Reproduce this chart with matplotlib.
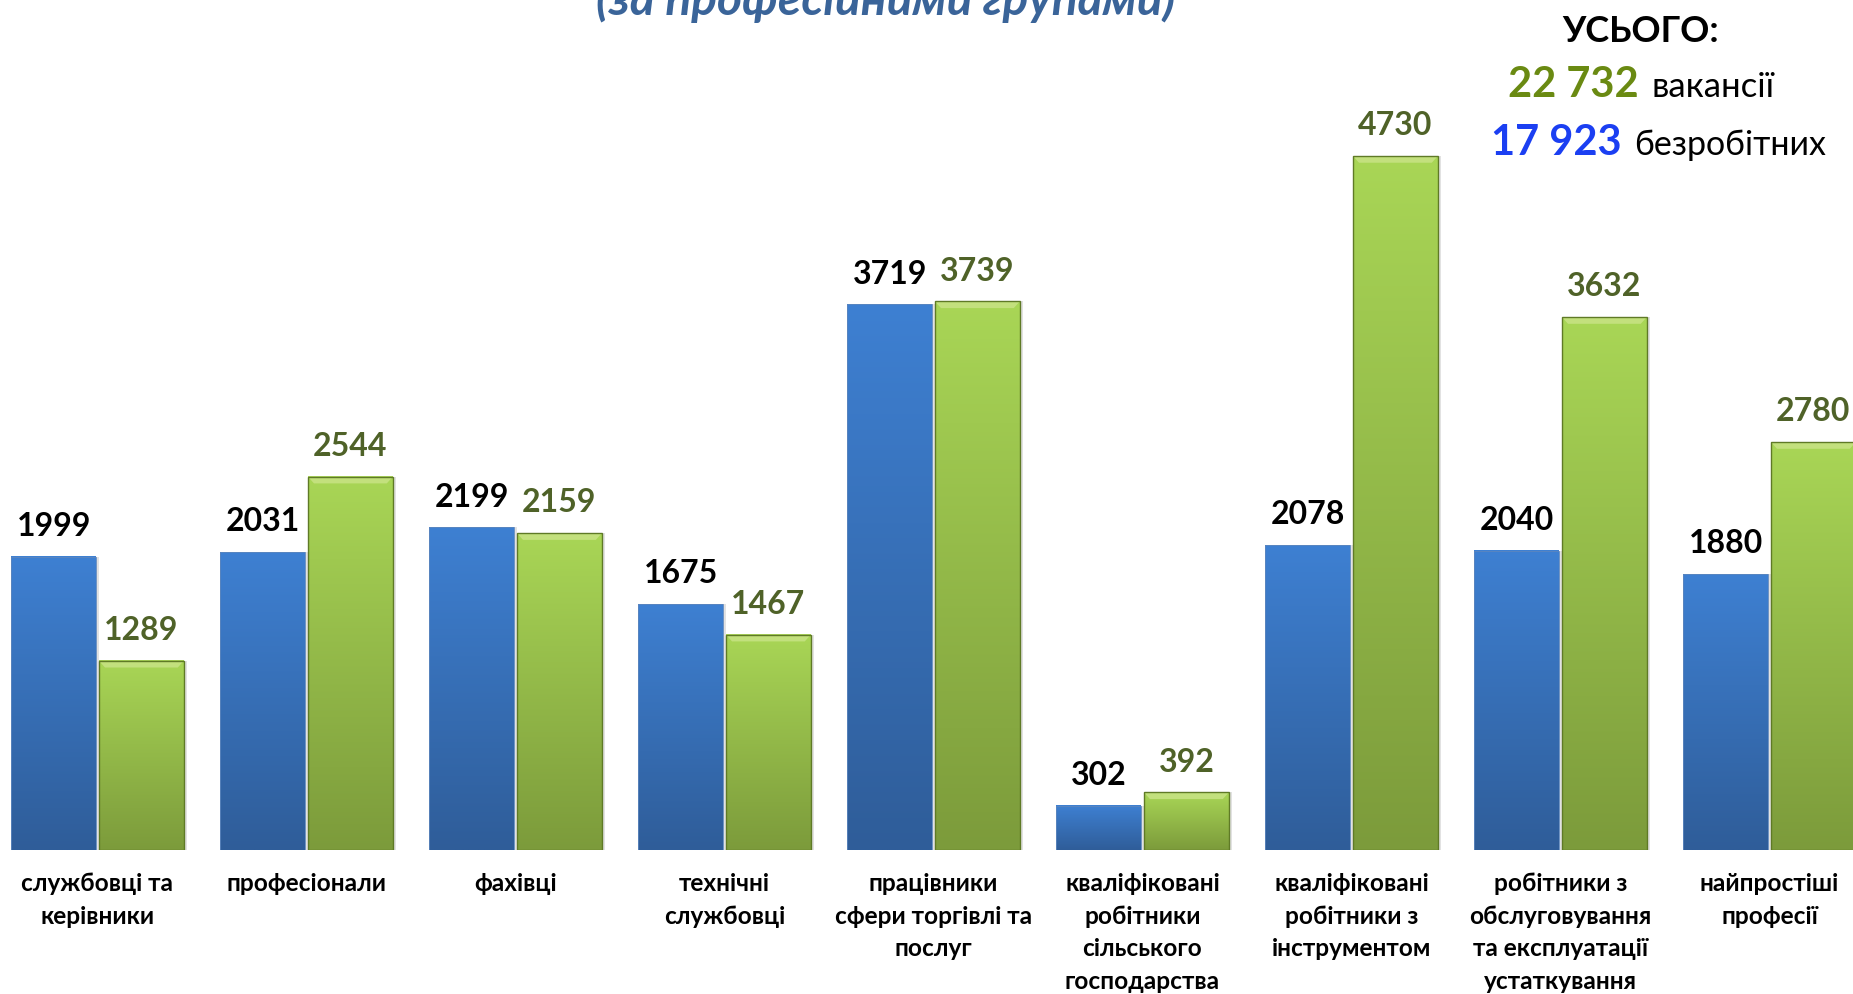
import numpy as np
import matplotlib.pyplot as plt
from matplotlib.colors import LinearSegmentedColormap

plt.rcParams['font.family'] = ['Lato', 'DejaVu Sans']

# data
categories = ['службовці та\nкерівники', 'професіонали', 'фахівці', 'технічні\nслужбовці',
              'працівники\nсфери торгівлі та\nпослуг',
              'кваліфіковані\nробітники\nсільського\nгосподарства',
              'кваліфіковані\nробітники з\nінструментом',
              'робітники з\nобслуговування\nта експлуатації\nустаткування',
              'найпростіші\nпрофесії']
unemployed = [1999, 2031, 2199, 1675, 3719, 302, 2078, 2040, 1880]
vacancies = [1289, 2544, 2159, 1467, 3739, 392, 4730, 3632, 2780]
total_vac = '22 732'
total_unemp = '17 923'

fig = plt.figure(figsize=(18.53, 9.94), dpi=100)
ax = fig.add_axes([0, 144 / 994, 1, 850 / 994])

x = np.arange(len(categories))
w = 0.405
off = 0.21

blue_cmap = LinearSegmentedColormap.from_list('b', ['#3e80d2', '#2f5d99'])
green_cmap = LinearSegmentedColormap.from_list('g', ['#a9d656', '#7c9b3b'])
grad = np.linspace(0, 1, 256).reshape(-1, 1)

# soft shadow behind the bars
for vals, dx in ((unemployed, -off), (vacancies, off)):
    ax.bar(x + dx + 0.006, np.array(vals) + 25, w + 0.016, bottom=-25,
           color='#cfcfcf', alpha=0.6, zorder=0.5, lw=0)

bars_b = ax.bar(x - off, unemployed, w, color='none', edgecolor='#5d86bd', linewidth=0.6, zorder=3)
bars_g = ax.bar(x + off, vacancies, w, color='none', edgecolor='#5f7a26', linewidth=1.0, zorder=3)

for bars, cmap in ((bars_b, blue_cmap), (bars_g, green_cmap)):
    for p in bars:
        x0, h = p.get_x(), p.get_height()
        ax.imshow(grad, extent=[x0, x0 + p.get_width(), 0, h], cmap=cmap,
                  aspect='auto', origin='upper', zorder=2)

# bevel highlight on green bars
for p in bars_g:
    x0, h, bw = p.get_x(), p.get_height(), p.get_width()
    ax.fill([x0, x0 + bw, x0 + bw * 0.93, x0 + bw * 0.07], [h, h, h - 45, h - 45],
            color='#c8e385', alpha=0.85, zorder=2.5, lw=0)

for xi, v in zip(x, unemployed):
    ax.annotate(str(v), (xi - off, v), xytext=(0, 15), textcoords='offset points',
                ha='center', va='baseline', fontsize=23, fontweight='bold', color='black')
for xi, v in zip(x, vacancies):
    ax.annotate(str(v), (xi + off, v), xytext=(0, 15), textcoords='offset points',
                ha='center', va='baseline', fontsize=23, fontweight='bold', color='#4f6228')

for xi, c in zip(x, categories):
    ax.annotate(c, (xi, 0), xytext=(0, -16), textcoords='offset points',
                ha='center', va='top', fontsize=17.6, fontweight='bold',
                linespacing=1.5, color='black', annotation_clip=False)

ax.set_xlim(-97.5 / 209, (1853 - 97.5) / 209)
ax.set_ylim(0, 850 / 0.1467)
ax.axis('off')

fig.text(886 / 1853, 1 - 15 / 994, '(за професійними групами)', ha='center', va='baseline',
         fontsize=34.5, fontweight='bold', fontstyle='italic', color='#3a6499')

fig.text(1641 / 1853, 1 - 42 / 994, 'УСЬОГО:', ha='center', va='baseline',
         fontsize=26, fontweight='bold', color='black')
fig.text(1639 / 1853, 1 - 97 / 994, total_vac, ha='right', va='baseline',
         fontsize=30, fontweight='bold', color='#6a8a12')
fig.text(1652 / 1853, 1 - 97 / 994, 'вакансії', ha='left', va='baseline',
         fontsize=25, color='black')
fig.text(1622 / 1853, 1 - 155 / 994, total_unemp, ha='right', va='baseline',
         fontsize=30, fontweight='bold', color='#1b3ff2')
fig.text(1634 / 1853, 1 - 155 / 994, 'безробітних', ha='left', va='baseline',
         fontsize=24.5, color='black')

fig.savefig('out.png', dpi=100, facecolor='white')
